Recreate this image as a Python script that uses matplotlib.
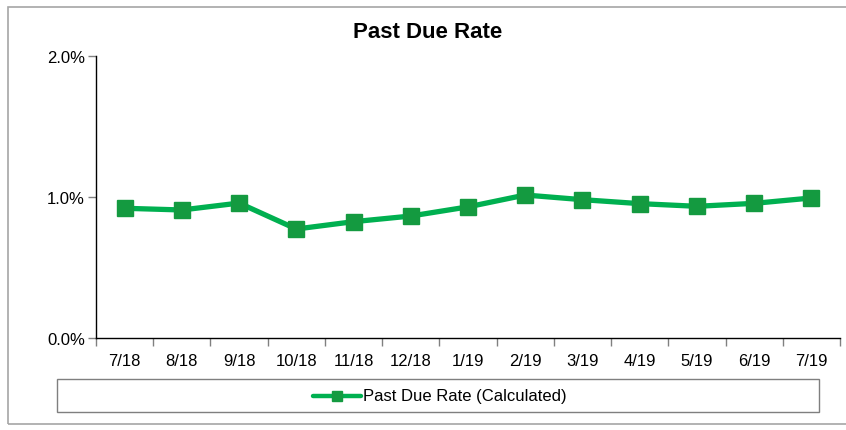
import matplotlib
matplotlib.use("Agg")
import matplotlib.pyplot as plt
from matplotlib.patches import Rectangle
from matplotlib.lines import Line2D
from matplotlib.ticker import FuncFormatter, FixedLocator

plt.rcParams['font.family'] = ['Liberation Sans', 'DejaVu Sans']

categories = ["7/18", "8/18", "9/18", "10/18", "11/18", "12/18", "1/19",
              "2/19", "3/19", "4/19", "5/19", "6/19", "7/19"]
past_due_rate = [0.920, 0.908, 0.957, 0.773, 0.825, 0.865, 0.930,
                 1.014, 0.981, 0.953, 0.934, 0.955, 0.993]  # percent
series_label = "Past Due Rate (Calculated)"
title = "Past Due Rate"

W, H = 846, 431
fig = plt.figure(figsize=(W / 100, H / 100), dpi=100)

# outer frame
fig.patches.append(Rectangle((8 / W, 6 / H), 1.0, (425 - 8) / H, transform=fig.transFigure,
                             fill=False, edgecolor='#a6a6a6', linewidth=1.2))

ax = fig.add_axes([96 / W, (H - 339) / H, (840 - 96) / W, (339 - 57) / H])
x = list(range(len(categories)))
line_color = '#00B050'
marker_color = '#149A40'
ax.plot(x, past_due_rate, color=line_color, linewidth=3.8, solid_capstyle='round',
        marker='s', markersize=12, markerfacecolor=marker_color,
        markeredgecolor=marker_color, zorder=3)

ax.set_xlim(-0.5, len(categories) - 0.5)
ax.set_ylim(0, 2.0)
ax.set_yticks([0, 1.0, 2.0])
ax.yaxis.set_major_formatter(FuncFormatter(lambda v, p: f"{v:.1f}%"))
ax.set_xticks(x)
ax.set_xticklabels(categories)
ax.xaxis.set_minor_locator(FixedLocator([i - 0.5 for i in range(len(categories) + 1)]))
ax.tick_params(axis='x', which='major', length=0, pad=11, labelsize=12)
ax.tick_params(axis='x', which='minor', length=6, color='#808080', width=1, direction='out')
ax.tick_params(axis='y', length=6, color='#808080', width=1, labelsize=12, pad=2)

for s in ['top', 'right']:
    ax.spines[s].set_visible(False)
ax.spines['left'].set_color('black')
ax.spines['bottom'].set_color('black')
ax.spines['left'].set_linewidth(1)
ax.spines['bottom'].set_linewidth(1)

fig.text(428 / W, 1 - 32 / H, title, ha='center', va='center', fontsize=16, fontweight='bold')

# legend box
fig.patches.append(Rectangle((57 / W, (H - 413) / H), (819 - 57) / W, (413 - 380) / H,
                             transform=fig.transFigure, fill=False,
                             edgecolor='#7f7f7f', linewidth=1))
lx0, lx1 = 313 / W, 361 / W
ly = 1 - 397 / H
fig.lines.append(Line2D([lx0, lx1], [ly, ly], transform=fig.transFigure, color=line_color,
                        linewidth=3.2, solid_capstyle='round'))
fig.lines.append(Line2D([(lx0 + lx1) / 2], [ly], transform=fig.transFigure, marker='s',
                        markersize=7.5, color=marker_color, linestyle='none'))
fig.text(363 / W, ly, series_label, ha='left', va='center', fontsize=12)

fig.savefig("out.png", dpi=100)
